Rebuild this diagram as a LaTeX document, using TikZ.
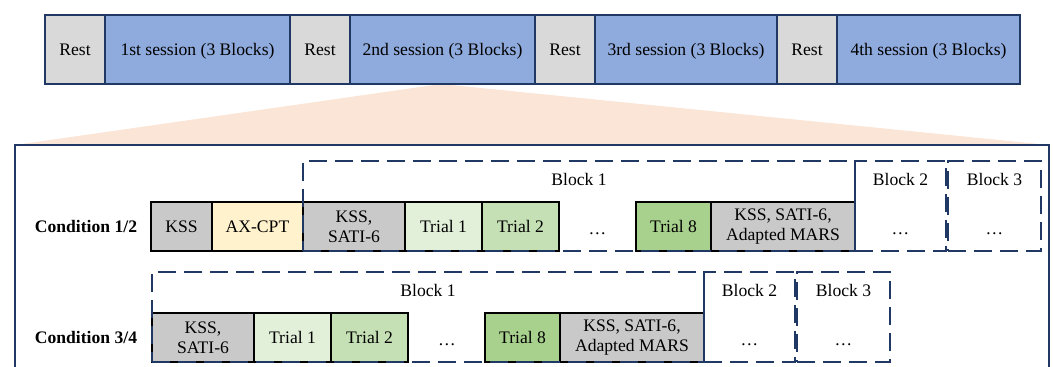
\documentclass[tikz,border=0pt]{standalone}
\usepackage{fontspec}
\setmainfont{Liberation Serif}
\definecolor{navy}{HTML}{1F3864}
\definecolor{restgray}{HTML}{D9D9D9}
\definecolor{sessblue}{HTML}{8FAADC}
\definecolor{fan}{HTML}{FBE5D6}
\definecolor{kssgray}{HTML}{C9C9C9}
\definecolor{axcpt}{HTML}{FFF2CC}
\definecolor{trA}{HTML}{E2F0D9}
\definecolor{trB}{HTML}{C5E0B4}
\definecolor{trC}{HTML}{A9D18E}
\begin{document}
\begin{tikzpicture}[x=1pt,y=-1pt,
  every node/.style={font=\fontsize{17.6}{20}\selectfont, inner sep=0pt, outer sep=0pt},
  topcell/.style={draw=navy, line width=1.5pt, minimum height=69pt, text height=12pt, text depth=1pt},
  cell/.style={draw=black, line width=1.4pt, minimum height=49pt, align=center},
  blockbox/.style={draw=navy, line width=1.7pt, dash pattern=on 18pt off 8pt},
  condlabel/.style={font=\fontsize{17.6}{20}\selectfont\bfseries}]
\useasboundingbox (0,0) rectangle (1053,367);
\clip (0,0) rectangle (1053,367);
% fan and big frame
\coordinate (fl) at (15,145);
\coordinate (fr) at (1049,145);
\coordinate (apex) at (441,84);
\fill[fan] (apex) -- (fl) -- (fr) -- cycle;
\draw[navy, line width=2pt, fill=white] (15,400) -- (fl) -- (fr) -- (1049,400);
% top bar
\node[topcell, fill=restgray, minimum width=60pt] (r1) at (75,49.5) {Rest};
\node[topcell, fill=sessblue, minimum width=185pt] (s1) at (197.5,49.5) {1st session (3 Blocks)};
\node[topcell, fill=restgray, minimum width=60pt] (r2) at (320,49.5) {Rest};
\node[topcell, fill=sessblue, minimum width=185pt] (s2) at (442.5,49.5) {2nd session (3 Blocks)};
\node[topcell, fill=restgray, minimum width=60pt] (r3) at (565,49.5) {Rest};
\node[topcell, fill=sessblue, minimum width=182pt] (s3) at (686,49.5) {3rd session (3 Blocks)};
\node[topcell, fill=restgray, minimum width=60pt] (r4) at (807,49.5) {Rest};
\node[topcell, fill=sessblue, minimum width=183pt] (s4) at (928.5,49.5) {4th session (3 Blocks)};
% row 1
\node[condlabel] (c12) at (86,226.5) {Condition 1/2};
\node[cell, fill=kssgray, minimum width=61pt] (a1) at (181.5,226.5) {KSS};
\node[cell, fill=axcpt, minimum width=91pt] (a2) at (257.5,226.5) {AX-CPT};
\node[cell, fill=kssgray, minimum width=102pt] (a3) at (354,226.5) {KSS,\\SATI-6};
\node[cell, fill=trA, minimum width=77pt] (a4) at (443.5,226.5) {Trial 1};
\node[cell, fill=trB, minimum width=77pt] (a5) at (520.5,226.5) {Trial 2};
\node (ad) at (597.5,234) {…};
\node[cell, fill=trC, minimum width=75pt] (a8) at (673.5,226.5) {Trial 8};
\node[cell, fill=kssgray, minimum width=144pt] (a9) at (783,226.5) {KSS, SATI-6,\\Adapted MARS};
\node[blockbox, minimum width=552pt, minimum height=90pt] (b11) at (579,206) {};
\node (b11t) at (579,179) {Block 1};
\node[blockbox, minimum width=91pt, minimum height=90pt] (b12) at (900.5,206) {};
\node (b12t) at (900.5,179) {Block 2};
\node (b12d) at (900.5,234) {…};
\node[blockbox, minimum width=93pt, minimum height=90pt] (b13) at (994.5,206) {};
\node (b13t) at (994.5,179) {Block 3};
\node (b13d) at (994.5,234) {…};
% row 2
\node[condlabel] (c34) at (86,337.5) {Condition 3/4};
\node[cell, fill=kssgray, minimum width=102pt] (d3) at (203,337.5) {KSS,\\SATI-6};
\node[cell, fill=trA, minimum width=77pt] (d4) at (292.5,337.5) {Trial 1};
\node[cell, fill=trB, minimum width=77pt] (d5) at (369.5,337.5) {Trial 2};
\node (dd) at (447,345) {…};
\node[cell, fill=trC, minimum width=75pt] (d8) at (522.5,337.5) {Trial 8};
\node[cell, fill=kssgray, minimum width=144pt] (d9) at (632,337.5) {KSS, SATI-6,\\Adapted MARS};
\node[blockbox, minimum width=552pt, minimum height=90pt] (b21) at (428,317) {};
\node (b21t) at (428,290) {Block 1};
\node[blockbox, minimum width=91pt, minimum height=90pt] (b22) at (749.5,317) {};
\node (b22t) at (749.5,290) {Block 2};
\node (b22d) at (749.5,345) {…};
\node[blockbox, minimum width=93pt, minimum height=90pt] (b23) at (843.5,317) {};
\node (b23t) at (843.5,290) {Block 3};
\node (b23d) at (843.5,345) {…};
\end{tikzpicture}
\end{document}
